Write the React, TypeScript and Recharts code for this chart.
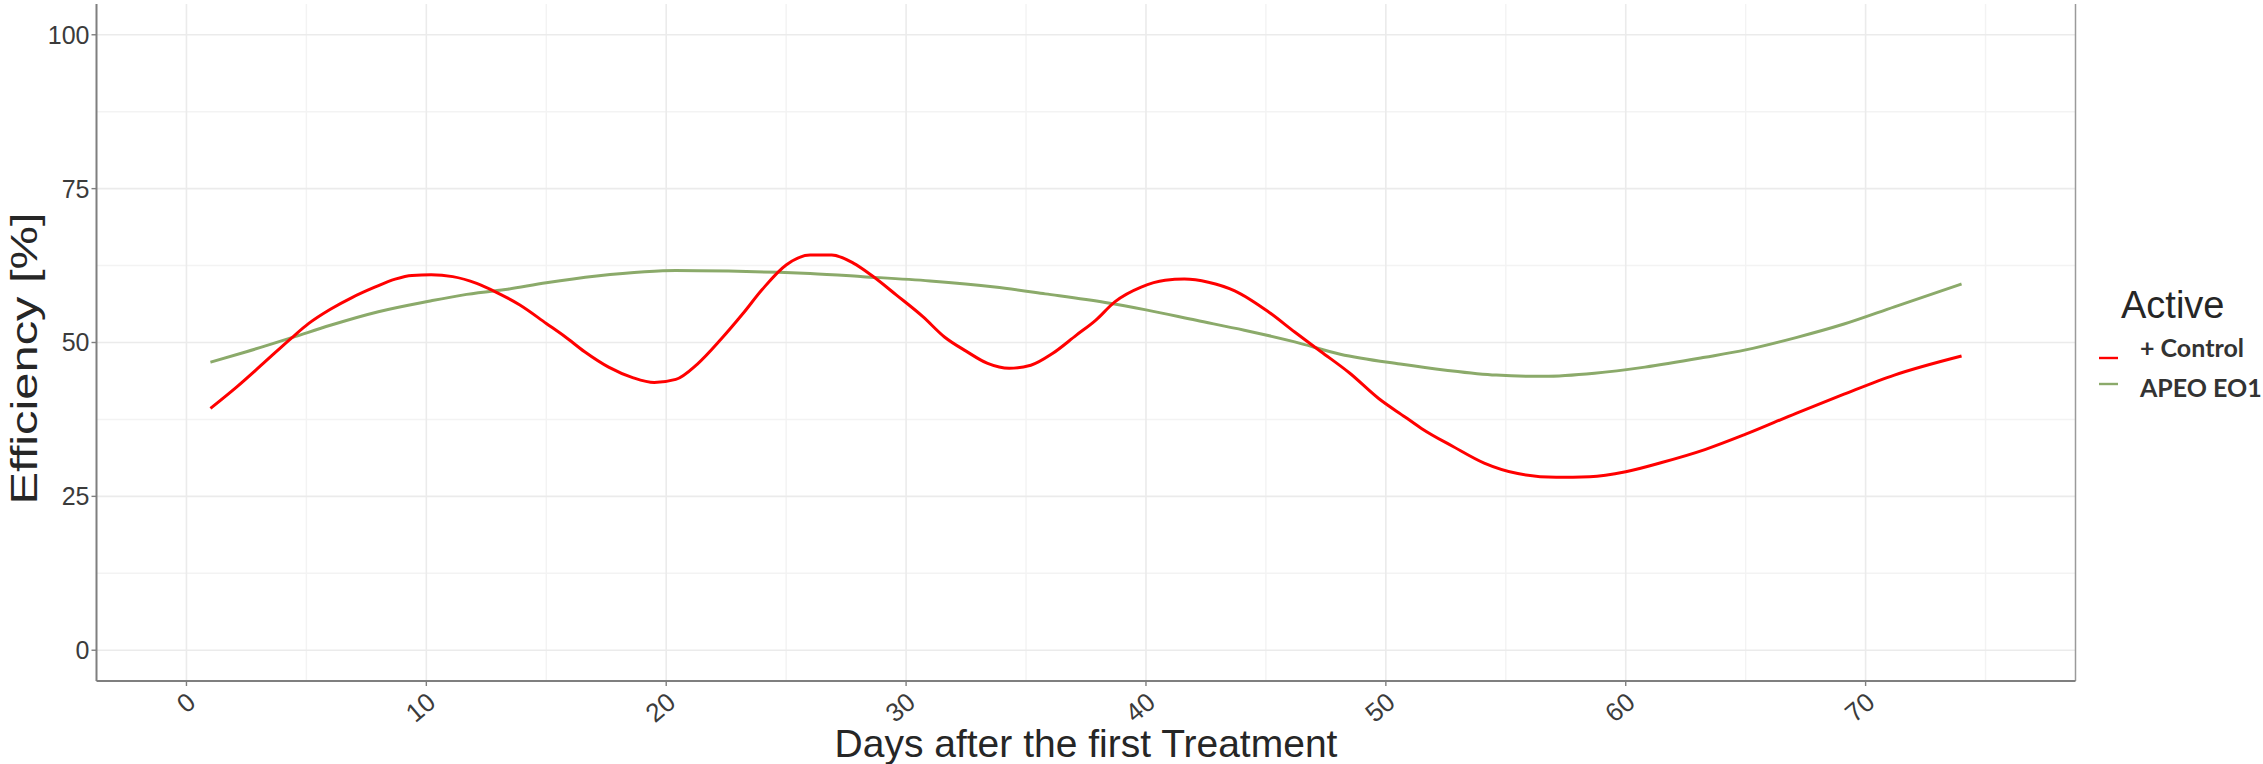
import React from "react";
import { LineChart, Line, XAxis, YAxis, CartesianGrid, ReferenceLine } from "recharts";

const FONT = "'Liberation Sans', Arial, sans-serif";

// smoothed curves (day, efficiency %)
const controlDays = [
  1.0, 2.1, 3.2, 4.4, 5.1, 6.0, 6.9, 7.8, 8.7, 9.4, 10.2, 11.1, 12.1, 12.9, 13.9, 15.0, 15.8, 16.6,
  17.6, 18.6, 19.5, 20.4, 21.3, 22.3, 23.2, 24.0, 25.0, 26.0, 26.9, 27.8, 28.6, 29.6, 30.7, 31.6,
  32.5, 33.4, 34.3, 35.2, 36.1, 37.1, 37.9, 38.7, 39.8, 40.8, 41.6, 42.6, 43.7, 45.1, 46.2, 47.3,
  48.5, 49.7, 50.8, 51.5, 52.8, 54.1, 55.5, 57.1, 58.5, 60.0, 61.5, 63.3, 65.0, 67.1, 69.1, 71.2, 74.0,
];
const controlValues = [
  39.3, 42.8, 46.6, 50.8, 53.1, 55.4, 57.3, 58.9, 60.3, 60.9, 61.0, 60.7, 59.6, 58.2, 56.1, 53.1, 50.9, 48.5,
  46.0, 44.3, 43.5, 44.0, 46.5, 50.6, 54.7, 58.6, 62.6, 64.2, 64.2, 62.9, 60.8, 57.7, 54.2, 50.9,
  48.6, 46.6, 45.8, 46.3, 48.2, 51.2, 53.6, 56.6, 59.0, 60.1, 60.3, 59.8, 58.4, 55.0, 51.7, 48.5,
  45.0, 40.9, 37.9, 36.0, 33.1, 30.4, 28.7, 28.1, 28.2, 29.0, 30.5, 32.6, 35.1, 38.5, 41.6, 44.7, 47.8,
];

const apeoDays = [
  1.0, 2.5, 4.4, 6.0, 8.0, 10.1, 11.5, 13.3, 15.0, 17.1, 19.1, 20.4, 22.6, 24.7, 26.0, 28.2, 31.0, 33.7,
  35.8, 38.3, 40.0, 42.1, 44.1, 46.2, 48.1, 50.6, 52.5, 54.6, 56.6, 58.7, 60.8, 63.3, 65.0, 67.1, 69.1, 71.2, 74.0,
];
const apeoValues = [
  46.8, 48.5, 50.8, 52.8, 55.0, 56.7, 57.7, 58.6, 59.7, 60.8, 61.5, 61.7, 61.6, 61.4, 61.2, 60.7, 60.0, 59.0,
  57.9, 56.5, 55.3, 53.6, 52.0, 50.1, 48.1, 46.5, 45.5, 44.7, 44.5, 45.0, 46.0, 47.6, 48.8, 50.8, 53.0, 55.8, 59.5,
];

const seriesNames = ["+ Control", "APEO EO1"];
const seriesColors = ["#FF0000", "#8BAA6A"];

const xTicks = [0, 10, 20, 30, 40, 50, 60, 70];
const xMinor = [5, 15, 25, 35, 45, 55, 65, 75];
const yTicks = [0, 25, 50, 75, 100];
const yMinor = [12.5, 37.5, 62.5, 87.5];
const xDomain = [-3.75, 78.75];
const yDomain = [-5, 105];

const controlData = controlDays.map((d, i) => ({ day: d, value: controlValues[i] }));
const apeoData = apeoDays.map((d, i) => ({ day: d, value: apeoValues[i] }));

const XTick = ({ x, y, payload }: any) => {
  const ax = x + 11;
  const ay = y + 17;
  return (
    <text x={ax} y={ay} textAnchor="end" transform={`rotate(-40, ${ax}, ${ay})`}
      fontSize={26} fill="#3b3b3b" fontFamily={FONT}>
      {payload.value}
    </text>
  );
};

// the reference title is stretched along its length
const YTitle = ({ viewBox }: any) => {
  const cx = viewBox.x + 24;
  const cy = viewBox.y + viewBox.height / 2 + 16;
  return (
    <text x={0} y={0} transform={`translate(${cx}, ${cy}) rotate(-90) scale(1.32, 1)`} textAnchor="middle"
      dominantBaseline="central" fontSize={37} fill="#262626" fontFamily={FONT}>
      Efficiency [%]
    </text>
  );
};

const XTitle = ({ viewBox }: any) => (
  <text x={viewBox.x + viewBox.width / 2} y={viewBox.y + 76} textAnchor="middle"
    fontSize={39} fill="#262626" fontFamily={FONT}>
    Days after the first Treatment
  </text>
);

const LegendBox = () => (
  <svg width={2263} height={764} style={{ position: "absolute", left: 0, top: 0, pointerEvents: "none" }}>
    <text x={2121} y={318} fontSize={38} fill="#262626" fontFamily={FONT}>Active</text>
    {seriesNames.map((name, i) => (
      <g key={name}>
        <line x1={2099} x2={2118} y1={358 + i * 26} y2={358 + i * 26} stroke={seriesColors[i]} strokeWidth={2.4} />
        <text x={2140} y={357 + i * 39.5} fontSize={25} fontWeight={700} fill="#333333" fontFamily="Lato, sans-serif">
          {name}
        </text>
      </g>
    ))}
  </svg>
);

export default function App() {
  return (
    <div style={{ position: "absolute", left: 0, top: 0, width: 2263, height: 764, background: "#fff" }}>
      <LineChart width={2263} height={764} margin={{ top: 4, right: 187.5, bottom: 0, left: 0.5 }}>
        <CartesianGrid stroke="#F3F3F3" strokeWidth={1.4} horizontalValues={yMinor} verticalValues={xMinor} />
        <CartesianGrid stroke="#EBEBEB" strokeWidth={1.6} horizontalValues={yTicks} verticalValues={xTicks} />
        <XAxis
          type="number"
          dataKey="day"
          domain={xDomain}
          ticks={xTicks}
          allowDataOverflow
          height={83}
          tickSize={5}
          tickMargin={2}
          tick={<XTick />}
          axisLine={{ stroke: "#7f7f7f", strokeWidth: 2 }}
          tickLine={{ stroke: "#7f7f7f", strokeWidth: 1.4 }}
          label={<XTitle />}
        />
        <YAxis
          type="number"
          dataKey="value"
          domain={yDomain}
          ticks={yTicks}
          allowDataOverflow
          width={96}
          tickSize={5}
          tickMargin={2}
          tick={{ fontSize: 25, fill: "#3b3b3b", fontFamily: FONT }}
          axisLine={{ stroke: "#7f7f7f", strokeWidth: 2 }}
          tickLine={{ stroke: "#7f7f7f", strokeWidth: 1.4 }}
          label={<YTitle />}
        />
        <ReferenceLine x={xDomain[1]} stroke="#9a9a9a" strokeWidth={1.5} ifOverflow="extendDomain" />
        <Line data={apeoData} dataKey="value" name={seriesNames[1]} type="monotone"
          stroke={seriesColors[1]} strokeWidth={3} dot={false} isAnimationActive={false} />
        <Line data={controlData} dataKey="value" name={seriesNames[0]} type="monotone"
          stroke={seriesColors[0]} strokeWidth={3} dot={false} isAnimationActive={false} />
      </LineChart>
      <LegendBox />
    </div>
  );
}
